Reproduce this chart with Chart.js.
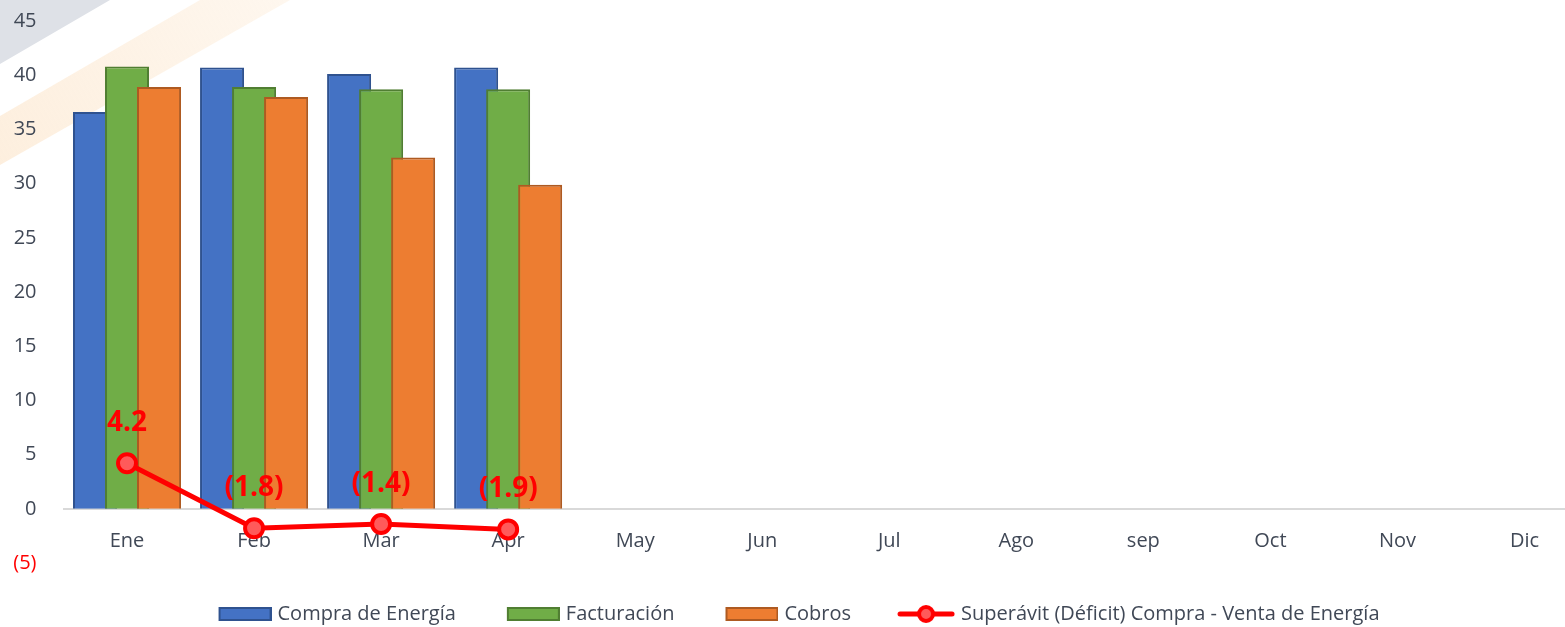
<!DOCTYPE html>
<html>
<head>
<meta charset="utf-8">
<script src="https://cdn.jsdelivr.net/npm/chart.js@4.4.0/dist/chart.umd.min.js"></script>
<style>
html,body{margin:0;padding:0;overflow:hidden;background:#ffffff;width:1565px;height:627px}
#wrap{position:relative;width:1618px;height:645px;margin-top:-18px}
</style>
</head>
<body>
<div id="wrap"><canvas id="c"></canvas></div>
<script>
// ---- data ----
const months = ['Ene','Feb','Mar','Apr','May','Jun','Jul','Ago','sep','Oct','Nov','Dic'];
const compraEnergia = [36.6, 40.7, 40.1, 40.7, null, null, null, null, null, null, null, null];
const facturacion   = [40.8, 38.9, 38.7, 38.7, null, null, null, null, null, null, null, null];
const cobros        = [38.9, 38.0, 32.4, 29.9, null, null, null, null, null, null, null, null];
const superavit     = [4.2, -1.8, -1.4, -1.9, null, null, null, null, null, null, null, null];
const seriesNames = ['Compra de Energía', 'Facturación', 'Cobros', 'Superávit (Déficit) Compra - Venta de Energía'];
const yMin = -5, yMax = 45, yStep = 5;

const TEXT = '#404856';
const RED = '#FF0000';
const PAGE_SHIFT = 18; // canvas is shifted up by this much (see CSS)
Chart.defaults.font.family = "'Open Sans', 'DejaVu Sans', sans-serif";

function fmtNeg(v, dec) {
  const s = dec ? Math.abs(v).toFixed(dec) : String(Math.abs(v));
  return v < 0 ? '(' + s + ')' : s;
}

function legendImg(kind, fill, stroke) {
  const c = document.createElement('canvas');
  c.width = 67; c.height = 24;
  const g = c.getContext('2d');
  if (kind === 'box') {
    g.fillStyle = fill; g.fillRect(14, 5, 53, 14);
    g.strokeStyle = stroke; g.lineWidth = 2; g.strokeRect(15, 6, 51, 12);
  } else {
    g.strokeStyle = RED; g.lineWidth = 5; g.lineCap = 'round';
    g.beginPath(); g.moveTo(12, 12); g.lineTo(64, 12); g.stroke();
    g.beginPath(); g.arc(38, 12, 7, 0, Math.PI * 2);
    g.fillStyle = '#FF5A5A'; g.fill();
    g.lineWidth = 4; g.strokeStyle = RED; g.stroke();
  }
  return c;
}
const legendImgs = [
  legendImg('box', '#4472C4', '#2F528F'),
  legendImg('box', '#70AD47', '#507E32'),
  legendImg('box', '#ED7D31', '#AE5A21'),
  legendImg('line')
];

const watermark = {
  id: 'watermark',
  beforeDraw(chart) {
    const ctx = chart.ctx;
    ctx.save();
    ctx.translate(0, PAGE_SHIFT);
    ctx.fillStyle = '#DEE1E7';
    ctx.beginPath(); ctx.moveTo(0, -PAGE_SHIFT); ctx.lineTo(110 + PAGE_SHIFT * 1.72, -PAGE_SHIFT); ctx.lineTo(110, 0); ctx.lineTo(0, 64); ctx.closePath(); ctx.fill();
    const gr = ctx.createLinearGradient(0, 160, 290, 0);
    gr.addColorStop(0, 'rgba(252,228,200,0.6)');
    gr.addColorStop(1, 'rgba(252,228,200,0.3)');
    ctx.fillStyle = gr;
    ctx.beginPath(); ctx.moveTo(200, 0); ctx.lineTo(290, 0); ctx.lineTo(0, 165); ctx.lineTo(0, 116); ctx.closePath(); ctx.fill();
    ctx.restore();
  }
};

const drawOrder = {
  id: 'drawOrder',
  beforeDatasetsDraw(chart) {
    const metas = chart.getSortedVisibleDatasetMetas();
    for (const m of metas) { chart.ctx.save(); m.controller.draw(); chart.ctx.restore(); }
    return false;
  }
};

const lineLabels = {
  id: 'lineLabels',
  afterDraw(chart) {
    const ctx = chart.ctx;
    const meta = chart.getDatasetMeta(3);
    ctx.save();
    ctx.font = "bold 28px 'Open Sans', sans-serif";
    ctx.fillStyle = RED;
    ctx.textAlign = 'center';
    ctx.textBaseline = 'middle';
    meta.data.forEach((el, i) => {
      const v = superavit[i];
      if (v === null || v === undefined) return;
      ctx.fillText(fmtNeg(v, 1), el.x, el.y - 40);
    });
    ctx.restore();
  }
};

const barCommon = { borderWidth: 2, categoryPercentage: 0.756, barPercentage: 1.375, borderSkipped: 'start' };

new Chart(document.getElementById('c'), {
  type: 'bar',
  data: {
    labels: months,
    datasets: [
      Object.assign({ label: seriesNames[0], data: compraEnergia, backgroundColor: '#4472C4', borderColor: '#2F528F' }, barCommon),
      Object.assign({ label: seriesNames[1], data: facturacion, backgroundColor: '#70AD47', borderColor: '#507E32' }, barCommon),
      Object.assign({ label: seriesNames[2], data: cobros, backgroundColor: '#ED7D31', borderColor: '#AE5A21' }, barCommon),
      { type: 'line', label: seriesNames[3], data: superavit, borderColor: RED, backgroundColor: RED,
        borderWidth: 5, pointRadius: 9, pointBorderWidth: 4, pointBackgroundColor: '#FF5A5A',
        pointBorderColor: RED, tension: 0, fill: false, spanGaps: false }
    ]
  },
  options: {
    responsive: true,
    maintainAspectRatio: false,
    animation: false,
    layout: { padding: { left: 0, right: 30, top: 2, bottom: 0 } },
    plugins: {
      tooltip: { enabled: false },
      legend: {
        position: 'bottom',
        maxHeight: 64,
        labels: {
          usePointStyle: true,
          pointStyleWidth: 59,
          padding: 41,
          font: { size: 20 },
          color: TEXT,
          sort: (a, b) => a.datasetIndex - b.datasetIndex,
          generateLabels: (chart) => chart.data.datasets.map((ds, i) => ({
            text: ds.label, pointStyle: legendImgs[i], fillStyle: 'transparent',
            strokeStyle: 'transparent', lineWidth: 0, hidden: false, datasetIndex: i, fontColor: TEXT
          }))
        }
      }
    },
    scales: {
      x: {
        position: { y: 0 },
        grid: { display: true, drawOnChartArea: false, drawTicks: false },
        border: { display: true, color: '#D9D9D9', width: 2 },
        ticks: { color: TEXT, font: { size: 20 }, padding: 20, maxRotation: 0, autoSkip: false }
      },
      y: {
        min: yMin, max: yMax,
        afterFit: (s) => { s.width = 63.5; },
        grid: { display: false, drawTicks: false },
        border: { display: false },
        ticks: {
          stepSize: yStep, padding: 27, font: { size: 20 },
          color: (c) => (c.tick && c.tick.value < 0) ? RED : TEXT,
          callback: (v) => fmtNeg(v, 0)
        }
      }
    }
  },
  plugins: [watermark, drawOrder, lineLabels]
});
</script>
</body>
</html>
